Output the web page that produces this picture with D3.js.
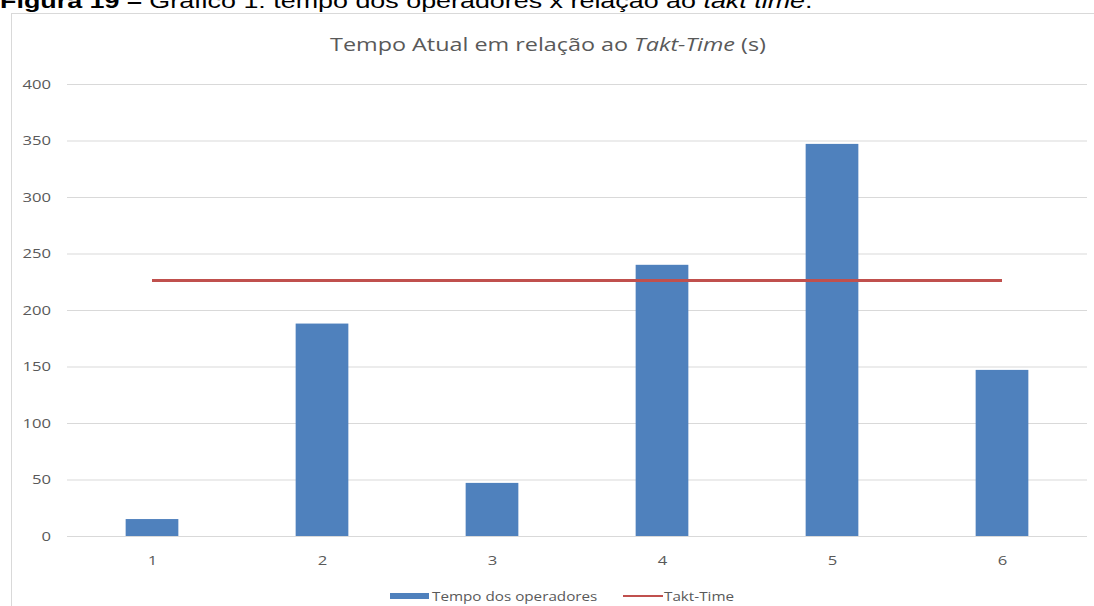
<!DOCTYPE html>
<html><head><meta charset="utf-8">
<script src="https://cdn.jsdelivr.net/npm/d3@7"></script>
<style>body{margin:0;background:#fff;} svg{display:block;}</style>
</head><body>
<svg id="c" width="1094" height="606"></svg>
<script>
const categories = ["1","2","3","4","5","6"];
const operatorTimes = [15, 188, 47, 240, 347, 147];
const taktTime = [226, 226, 226, 226, 226, 226];
const yTicks = [0, 50, 100, 150, 200, 250, 300, 350, 400];
const seriesNames = ["Tempo dos operadores", "Takt-Time"];

const svg = d3.select("#c");
const W = 1094, H = 606;
const m = {left: 67, right: 1087, top: 84, bottom: 536};
const SX = 1.28; // horizontal stretch of the reference image

// caption (cut off at top)
const cap = svg.append("text").attr("transform", `translate(0,8) scale(${SX},1)`)
  .attr("font-family", "Liberation Sans, Arial, sans-serif").attr("font-size", 21).attr("fill", "#000");
cap.append("tspan").attr("font-weight", "bold").text("Figura 19 – ");
cap.append("tspan").text("Gráfico 1: tempo dos operadores x relação ao ");
cap.append("tspan").attr("font-style", "italic").text("takt time");
cap.append("tspan").text(".");

// chart frame
svg.append("rect").attr("x", 11.5).attr("y", 13.5).attr("width", W + 10).attr("height", H + 10)
  .attr("fill", "#fff").attr("stroke", "#d9d9d9").attr("stroke-width", 1);

const x = d3.scaleBand().domain(categories).range([m.left, m.right]).paddingInner(0.69).paddingOuter(0.345);
const xc = d3.scalePoint().domain(categories).range([m.left, m.right]).padding(0.5);
const y = d3.scaleLinear().domain([0, 400]).range([m.bottom, m.top]);

// title
const t = svg.append("text").attr("transform", `translate(548,51) scale(1.23,1)`).attr("text-anchor", "middle")
  .attr("font-family", "Open Sans, sans-serif").attr("font-size", 19).attr("fill", "#595959");
t.append("tspan").text("Tempo Atual em relação ao ");
t.append("tspan").attr("font-style", "italic").text("Takt-Time");
t.append("tspan").text(" (s)");

// gridlines + y axis
const yAxis = d3.axisLeft(y).tickValues(yTicks).tickSize(-(m.right - m.left)).tickPadding(17);
const gy = svg.append("g").attr("transform", `translate(${m.left},0)`).call(yAxis);
gy.select(".domain").remove();
gy.selectAll(".tick line").attr("stroke", "#d9d9d9").attr("stroke-width", 1);
gy.selectAll(".tick text").attr("font-family", "Open Sans, sans-serif").attr("font-size", 13).attr("fill", "#595959")
  .attr("x", 0).attr("transform", `translate(-16,0) scale(${SX},1)`);

// x axis
const xAxis = d3.axisBottom(xc).tickSize(0).tickPadding(20);
const gx = svg.append("g").attr("transform", `translate(0,${m.bottom})`).call(xAxis);
gx.select(".domain").remove();
gx.selectAll(".tick text").attr("font-family", "Open Sans, sans-serif").attr("font-size", 13).attr("fill", "#595959")
  .attr("x", 0).attr("transform", `scale(${SX},1)`);

// bars
svg.append("g").selectAll("rect").data(operatorTimes).join("rect")
  .attr("x", (d, i) => x(categories[i]))
  .attr("width", x.bandwidth())
  .attr("y", d => y(d))
  .attr("height", d => y(0) - y(d))
  .attr("fill", "#4F81BD");

// takt line
const line = d3.line().x((d, i) => xc(categories[i])).y(d => y(d));
svg.append("path").datum(taktTime).attr("d", line)
  .attr("fill", "none").attr("stroke", "#C0504D").attr("stroke-width", 3);

// legend
const lg = svg.append("g").attr("font-family", "Open Sans, sans-serif").attr("font-size", 12).attr("fill", "#595959");
lg.append("rect").attr("x", 390).attr("y", 593).attr("width", 39).attr("height", 6).attr("fill", "#4F81BD");
lg.append("text").attr("transform", `translate(432,601) scale(1.27,1)`).attr("fill", "#595959").text(seriesNames[0]);
lg.append("line").attr("x1", 623).attr("x2", 663).attr("y1", 596).attr("y2", 596).attr("stroke", "#C0504D").attr("stroke-width", 2);
lg.append("text").attr("transform", `translate(664,601) scale(1.27,1)`).attr("fill", "#595959").text(seriesNames[1]);
</script>
</body></html>
